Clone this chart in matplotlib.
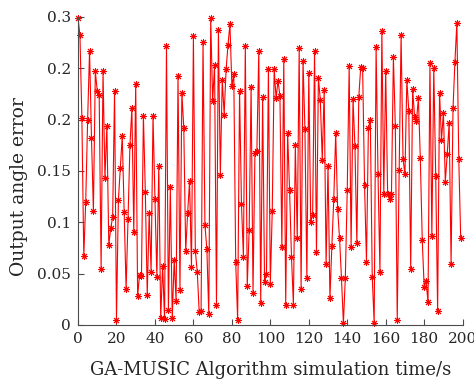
import numpy as np
import matplotlib
matplotlib.use("Agg")
import matplotlib.pyplot as plt

# output angle error, one value per second (t = 0..199)
err = [0.299, 0.282, 0.202, 0.067, 0.120, 0.200, 0.267, 0.182, 0.111, 0.247,
       0.228, 0.224, 0.055, 0.247, 0.143, 0.194, 0.078, 0.094, 0.105, 0.228,
       0.005, 0.122, 0.153, 0.184, 0.110, 0.035, 0.103, 0.175, 0.211, 0.091,
       0.235, 0.028, 0.049, 0.048, 0.204, 0.130, 0.029, 0.109, 0.052, 0.204,
       0.123, 0.047, 0.155, 0.0065, 0.0575, 0.0055, 0.272, 0.0146, 0.134, 0.0065,
       0.063, 0.0234, 0.243, 0.034, 0.226, 0.192, 0.072, 0.109, 0.140, 0.056,
       0.281, 0.072, 0.052, 0.013, 0.014, 0.276, 0.097, 0.074, 0.0105, 0.299,
       0.2185, 0.253, 0.0195, 0.287, 0.146, 0.239, 0.205, 0.249, 0.273, 0.293,
       0.233, 0.244, 0.061, 0.005, 0.228, 0.1175, 0.0666, 0.272, 0.038, 0.0925,
       0.2315, 0.0315, 0.168, 0.169, 0.267, 0.0218, 0.222, 0.042, 0.050, 0.249,
       0.040, 0.111, 0.249, 0.221, 0.238, 0.223, 0.076, 0.259, 0.0195, 0.187,
       0.1315, 0.0666, 0.0195, 0.175, 0.0844, 0.2695, 0.0347, 0.2575, 0.1906, 0.0455,
       0.245, 0.1006, 0.107, 0.267, 0.0708, 0.241, 0.219, 0.161, 0.229, 0.059,
       0.155, 0.026, 0.077, 0.123, 0.187, 0.113, 0.0844, 0.0455, 0.0016, 0.046,
       0.1315, 0.252, 0.076, 0.220, 0.174, 0.080, 0.222, 0.251, 0.250, 0.136,
       0.0617, 0.1916, 0.1997, 0.047, 0.0016, 0.271, 0.1468, 0.0513, 0.2867, 0.128,
       0.2477, 0.128, 0.123, 0.128, 0.261, 0.194, 0.005, 0.151, 0.2825, 0.1617,
       0.147, 0.2386, 0.2088, 0.055, 0.2299, 0.203, 0.199, 0.2208, 0.1623, 0.0828,
       0.0373, 0.043, 0.022, 0.2549, 0.0867, 0.250, 0.1455, 0.0136, 0.2263, 0.180,
       0.2068, 0.1396, 0.1666, 0.197, 0.059, 0.211, 0.2565, 0.2945, 0.1614, 0.0844]
t = np.arange(len(err))

xticks = [0, 20, 40, 60, 80, 100, 120, 140, 160, 180, 200]
yticks = [0, 0.05, 0.1, 0.15, 0.2, 0.25, 0.3]
ytick_labels = ['0', '0.05', '0.1', '0.15', '0.2', '0.2', '0.3']

plt.rcParams['font.family'] = ['DejaVu Serif']

fig = plt.figure(figsize=(4.74, 3.79), dpi=100)
ax = fig.add_axes([0.1646, 0.1425, 0.8114, 0.8127])

ax.plot(t, err, color='red', linewidth=0.8, marker=(8, 2, 0),
        markersize=5, markeredgewidth=0.7, clip_on=False)

ax.set_xlim(0, 200)
ax.set_ylim(0, 0.3)
ax.set_xticks(xticks)
ax.set_yticks(yticks)
ax.set_yticklabels(ytick_labels)

for s in ['top', 'right']:
    ax.spines[s].set_visible(False)
for s in ['left', 'bottom']:
    ax.spines[s].set_color('#4d4d4d')
    ax.spines[s].set_linewidth(0.8)

ax.tick_params(direction='in', length=4, width=0.8, color='#4d4d4d',
               labelsize=11, labelcolor='#262626', pad=5)

ax.set_xlabel('GA-MUSIC Algorithm simulation time/s', fontsize=13,
              color='#262626', labelpad=11)
ax.set_ylabel('Output angle error', fontsize=13.5, color='#262626')
ax.yaxis.set_label_coords(-0.13, 0.45)

fig.savefig('out.png', dpi=100)
